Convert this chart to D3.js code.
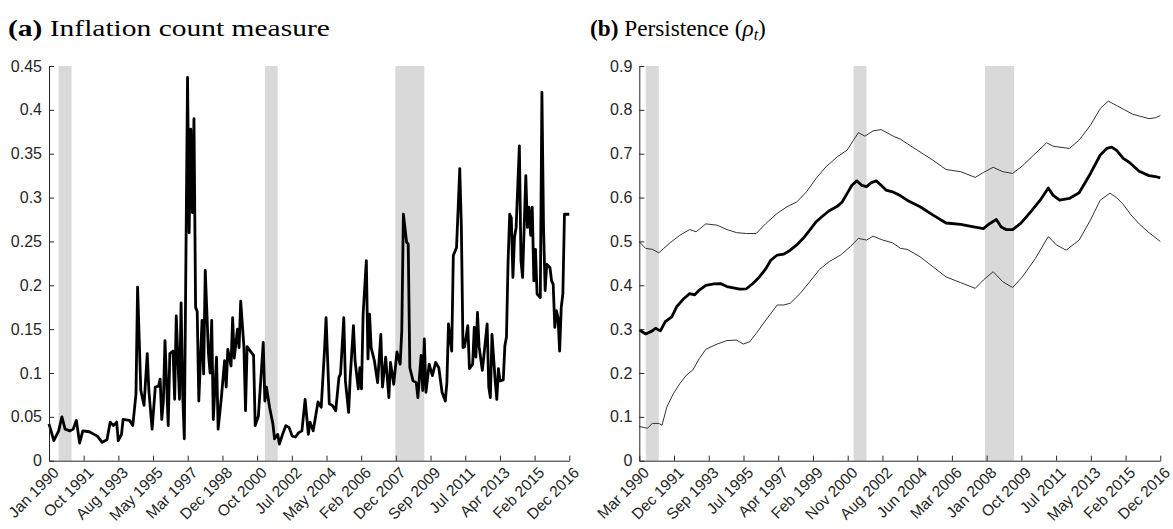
<!DOCTYPE html>
<html><head><meta charset="utf-8">
<script src="https://cdn.jsdelivr.net/npm/d3@7"></script>
<style>
html,body{margin:0;padding:0;background:#fff;}
svg{display:block;}
</style></head>
<body>
<svg id="chart" width="1173" height="529"></svg>
<script>
// ---------- DATA ----------
// months counted from Jan 1990 (0 = Jan 1990, 323 = Dec 2016)
const recessions = [[6, 14], [134, 142], [215, 233]];

const leftTickLabels = ["Jan 1990","Oct 1991","Aug 1993","May 1995","Mar 1997","Dec 1998","Oct 2000","Jul 2002","May 2004","Feb 2006","Dec 2007","Sep 2009","Jul 2011","Apr 2013","Feb 2015","Dec 2016"];
const rightTickLabels = ["Mar 1990","Dec 1991","Sep 1993","Jul 1995","Apr 1997","Feb 1999","Nov 2000","Aug 2002","Jun 2004","Mar 2006","Jan 2008","Oct 2009","Jul 2011","May 2013","Feb 2015","Dec 2016"];
const leftYTicks = [0,0.05,0.1,0.15,0.2,0.25,0.3,0.35,0.4,0.45];
const rightYTicks = [0,0.1,0.2,0.3,0.4,0.5,0.6,0.7,0.8,0.9];

// (a) Inflation count measure: [month, value]
const inflationCount = [
[0,0.042],[3,0.023],[6,0.034],[8,0.05],[10,0.036],[13,0.034],[15,0.036],[17,0.046],[19,0.02],[21,0.034],
[25,0.033],[28,0.03],[30,0.028],[33,0.021],[36,0.024],[38,0.044],[40,0.04],[42,0.044],[43,0.023],[45,0.03],
[46,0.047],[50,0.046],[52,0.04],[54,0.076],[55,0.198],[57,0.08],[59,0.063],[61,0.122],[62,0.08],[64,0.036],
[66,0.084],[68,0.085],[69,0.093],[70,0.047],[71,0.068],[72,0.137],[74,0.04],[75,0.122],[77,0.125],[78,0.07],
[79,0.165],[81,0.07],[82,0.18],[83,0.076],[84,0.025],[86,0.437],[87,0.26],[88,0.378],[89,0.283],[90,0.39],
[91,0.175],[92,0.17],[93,0.068],[95,0.16],[96,0.099],[97,0.217],[99,0.122],[100,0.1],[101,0.16],[102,0.047],
[104,0.118],[105,0.036],[107,0.072],[109,0.114],[110,0.084],[111,0.127],[113,0.108],[114,0.163],[115,0.117],[117,0.15],
[118,0.129],[119,0.182],[121,0.13],[122,0.057],[123,0.13],[125,0.125],[127,0.12],[128,0.04],[130,0.051],[133,0.135],
[134,0.068],[135,0.084],[137,0.06],[139,0.042],[140,0.025],[142,0.03],[143,0.019],[145,0.03],[147,0.04],[149,0.038],
[151,0.028],[153,0.027],[155,0.032],[157,0.034],[159,0.07],[161,0.03],[162,0.044],[164,0.034],[167,0.067],[169,0.061],
[171,0.125],[172,0.163],[174,0.065],[176,0.063],[178,0.057],[180,0.095],[181,0.099],[183,0.163],[184,0.091],[186,0.055],
[187,0.095],[189,0.154],[190,0.114],[192,0.082],[193,0.106],[194,0.082],[195,0.167],[197,0.228],[198,0.116],[199,0.167],
[200,0.129],[202,0.114],[204,0.089],[206,0.144],[207,0.084],[209,0.118],[211,0.072],[212,0.112],[214,0.087],[216,0.124],
[218,0.11],[219,0.148],[220,0.281],[222,0.249],[223,0.247],[224,0.106],[226,0.091],[228,0.089],[229,0.072],[231,0.12],
[232,0.08],[233,0.139],[234,0.078],[236,0.11],[238,0.097],[240,0.112],[242,0.106],[244,0.078],[246,0.068],[247,0.089],
[248,0.156],[250,0.125],[251,0.234],[253,0.243],[255,0.333],[256,0.266],[257,0.129],[258,0.13],[260,0.154],[261,0.105],
[263,0.11],[264,0.152],[265,0.118],[266,0.169],[267,0.13],[269,0.103],[270,0.12],[272,0.156],[273,0.084],[274,0.072],
[275,0.144],[277,0.091],[278,0.07],[279,0.105],[280,0.091],[282,0.092],[283,0.131],[284,0.141],[285,0.228],[286,0.281],
[287,0.277],[288,0.209],[289,0.255],[290,0.266],[292,0.359],[293,0.228],[294,0.209],[296,0.325],[297,0.266],[298,0.289],
[299,0.257],[300,0.289],[301,0.205],[302,0.241],[303,0.19],[305,0.186],[306,0.42],[307,0.266],[308,0.194],[309,0.224],
[311,0.22],[312,0.205],[313,0.201],[314,0.152],[315,0.171],[316,0.163],[317,0.125],[318,0.175],[319,0.19],[320,0.281],[323,0.281]
];

// (b) Persistence rho_t: median and bands, [month, value]
const rhoMedian = [
[2,0.298],[6,0.289],[10,0.296],[12,0.302],[15,0.296],[18,0.317],[22,0.328],[25,0.351],[29,0.368],[33,0.381],[36,0.378],
[39,0.389],[43,0.4],[48,0.403],[52,0.404],[56,0.397],[60,0.394],[64,0.391],[68,0.392],[72,0.404],[76,0.419],[80,0.438],
[83,0.457],[87,0.469],[91,0.471],[95,0.48],[99,0.492],[103,0.507],[107,0.526],[111,0.545],[115,0.558],[119,0.57],[124,0.58],
[127,0.59],[130,0.609],[133,0.628],[136,0.638],[139,0.628],[142,0.625],[145,0.634],[148,0.638],[151,0.628],[154,0.617],
[158,0.613],[163,0.604],[167,0.594],[175,0.579],[183,0.56],[191,0.542],[200,0.539],[208,0.533],[214,0.529],[218,0.541],
[222,0.55],[225,0.533],[228,0.527],[232,0.527],[237,0.541],[243,0.567],[249,0.594],[254,0.622],[257,0.605],[261,0.594],
[267,0.598],[273,0.611],[280,0.655],[286,0.697],[290,0.712],[293,0.715],[296,0.708],[300,0.69],[304,0.68],[310,0.66],
[316,0.65],[320,0.648],[323,0.645]
];
const rhoUpper = [
[2,0.499],[6,0.484],[10,0.482],[14,0.474],[17,0.484],[21,0.497],[27,0.514],[33,0.527],[37,0.522],[43,0.54],[50,0.537],
[56,0.527],[62,0.52],[68,0.518],[74,0.518],[80,0.541],[87,0.564],[93,0.579],[99,0.59],[105,0.613],[111,0.644],[117,0.67],
[124,0.693],[130,0.708],[134,0.731],[137,0.748],[141,0.74],[146,0.752],[151,0.755],[156,0.745],[159,0.739],[163,0.733],
[167,0.723],[175,0.704],[183,0.685],[191,0.664],[200,0.659],[209,0.646],[214,0.657],[220,0.669],[226,0.659],[232,0.655],
[238,0.672],[245,0.697],[253,0.725],[257,0.717],[267,0.712],[273,0.731],[280,0.765],[286,0.803],[291,0.82],[296,0.81],
[301,0.8],[306,0.79],[311,0.785],[316,0.78],[320,0.782],[323,0.787]
];
const rhoLower = [
[2,0.078],[7,0.074],[10,0.085],[14,0.085],[16,0.081],[19,0.123],[23,0.153],[27,0.176],[31,0.195],[35,0.207],[39,0.233],
[43,0.254],[50,0.266],[56,0.274],[62,0.275],[66,0.266],[70,0.271],[74,0.29],[80,0.321],[87,0.355],[91,0.355],[95,0.359],
[101,0.381],[107,0.408],[113,0.436],[119,0.454],[126,0.469],[132,0.488],[137,0.507],[142,0.503],[146,0.512],[152,0.503],
[158,0.497],[163,0.484],[167,0.482],[175,0.465],[183,0.442],[191,0.419],[200,0.406],[209,0.393],[214,0.412],[220,0.431],
[226,0.408],[232,0.395],[238,0.419],[246,0.461],[254,0.511],[259,0.492],[265,0.48],[273,0.503],[280,0.549],[286,0.594],
[292,0.61],[296,0.6],[300,0.585],[305,0.56],[310,0.54],[316,0.52],[323,0.5]
];

// ---------- DRAW ----------
const svg = d3.select("#chart");
const axisColor = "#262626";
const sansFont = "'Liberation Sans', Arial, Helvetica, sans-serif";
const yTop = 66, yBot = 460.7;

function panel(opts) {
  const g = svg.append("g");
  const x = d3.scaleLinear().domain(opts.xDomain).range(opts.xRange);
  const y = d3.scaleLinear().domain(opts.yDomain).range([yBot, yTop]);

  // recession bands
  g.selectAll("rect.rec").data(recessions).enter().append("rect")
    .attr("x", d => x(Math.max(d[0], opts.xDomain[0])))
    .attr("width", d => x(d[1]) - x(Math.max(d[0], opts.xDomain[0])))
    .attr("y", y(opts.yDomain[1]))
    .attr("height", y(opts.yDomain[0]) - y(opts.yDomain[1]))
    .attr("fill", "#d9d9d9");

  const line = d3.line().x(d => x(d[0])).y(d => y(d[1]));
  opts.series.forEach(s => {
    g.append("path").datum(s.data).attr("d", line)
      .attr("fill", "none").attr("stroke", s.color)
      .attr("stroke-width", s.width).attr("stroke-linejoin", "round");
  });

  // x axis
  const [d0, d1] = opts.xDomain;
  const tickVals = d3.range(opts.xLabels.length).map(i => d0 + i * (d1 - d0) / (opts.xLabels.length - 1));
  const xAxis = d3.axisBottom(x).tickValues(tickVals).tickSizeInner(-5).tickSizeOuter(0).tickFormat("");
  const xg = g.append("g").attr("transform", `translate(0,${yBot})`).call(xAxis);
  xg.select(".domain").attr("stroke", axisColor).attr("stroke-width", 1);
  xg.selectAll(".tick line").attr("stroke", axisColor);
  g.selectAll("text.xl").data(tickVals).enter().append("text")
    .attr("class", "xl")
    .attr("transform", (d) => `translate(${x(d) + 7},${yBot + 9}) rotate(-45)`)
    .attr("text-anchor", "end").attr("dy", "0.35em")
    .style("font-family", sansFont).attr("font-size", 15.5)
    .attr("fill", axisColor)
    .text((d, i) => opts.xLabels[i]);

  // y axis
  const yAxis = d3.axisLeft(y).tickValues(opts.yTicks).tickSizeInner(-5).tickSizeOuter(0)
    .tickFormat(d => String(+d.toFixed(2)));
  const yg = g.append("g").attr("transform", `translate(${opts.xRange[0]},0)`).call(yAxis);
  yg.select(".domain").attr("stroke", axisColor).attr("stroke-width", 1);
  yg.selectAll(".tick line").attr("stroke", axisColor);
  yg.selectAll(".tick text").style("font-family", sansFont)
    .attr("font-size", 16).attr("fill", axisColor).attr("x", -7);
  return g;
}

panel({
  xDomain: [0, 323], xRange: [49, 569.3], yDomain: [0, 0.45],
  xLabels: leftTickLabels, yTicks: leftYTicks,
  series: [{data: inflationCount, color: "#000", width: 2.8}]
});
panel({
  xDomain: [2, 323], xRange: [639.3, 1160.3], yDomain: [0, 0.9],
  xLabels: rightTickLabels, yTicks: rightYTicks,
  series: [
    {data: rhoUpper, color: "#333", width: 1},
    {data: rhoLower, color: "#333", width: 1},
    {data: rhoMedian, color: "#000", width: 2.8}
  ]
});

// titles
function title(x0, target, build) {
  const g = svg.append("g");
  const t = g.append("text").style("font-family", "'Liberation Serif', 'Times New Roman', serif")
    .attr("font-size", 23).attr("fill", "#000");
  build(t);
  const w = t.node().getComputedTextLength();
  g.attr("transform", `translate(${x0},36) scale(${target / w},1)`);
}
title(8, 322, t => {
  t.append("tspan").attr("font-weight", "bold").text("(a)");
  t.append("tspan").text(" Inflation count measure");
});
title(590, 176, t => {
  t.append("tspan").attr("font-weight", "bold").text("(b)");
  t.append("tspan").text(" Persistence (");
  t.append("tspan").attr("font-style", "italic").text("ρ");
  t.append("tspan").attr("font-style", "italic").attr("font-size", 16).attr("dy", 4).text("t");
  t.append("tspan").attr("dy", -4).text(")");
});
</script>
</body></html>
